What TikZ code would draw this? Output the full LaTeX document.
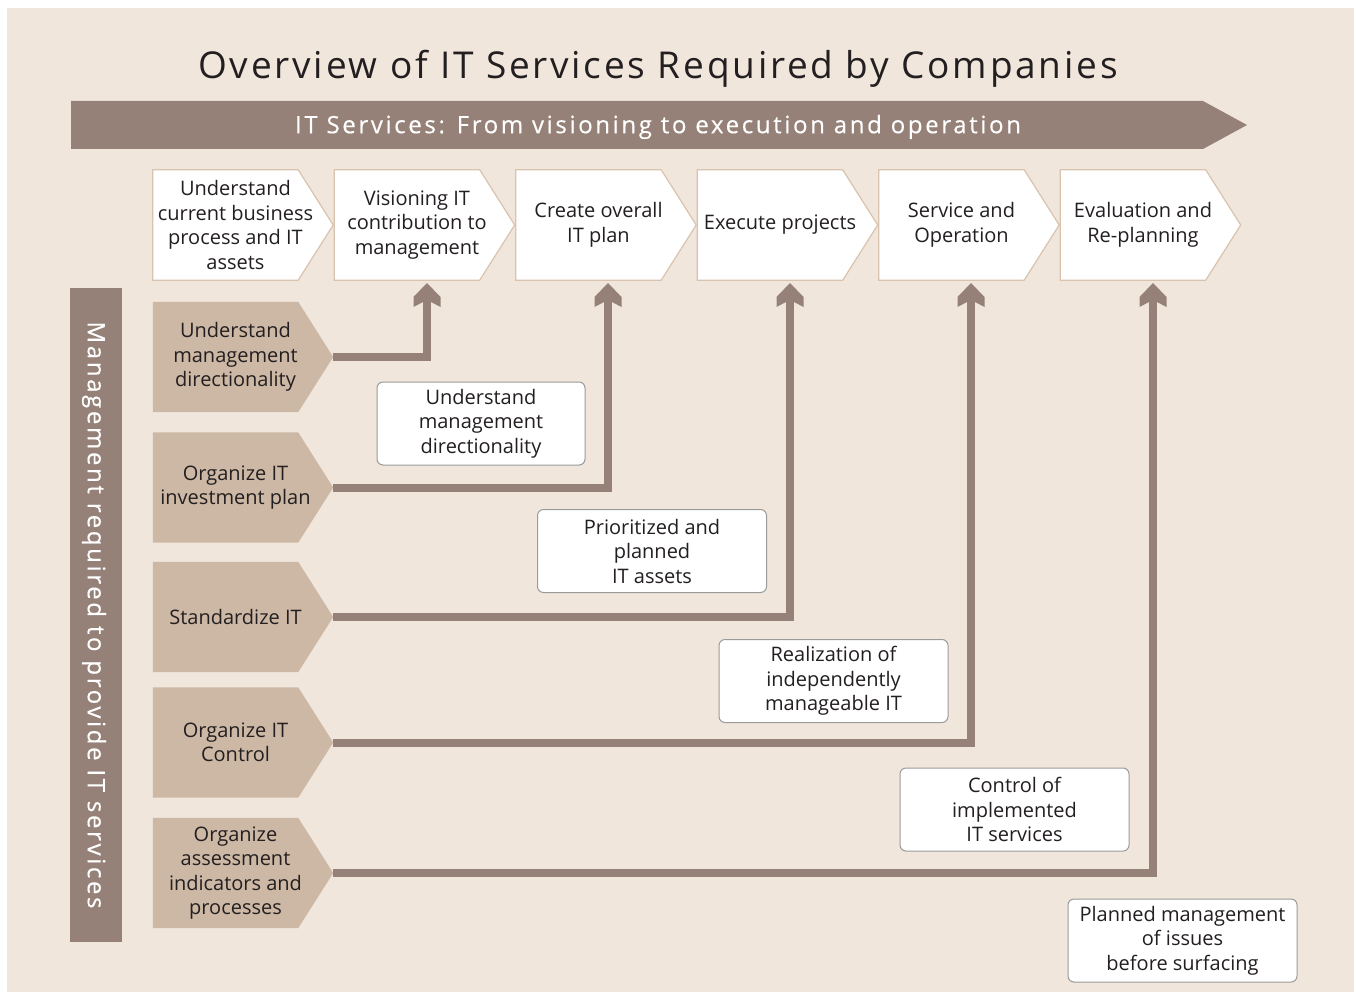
\documentclass[tikz,border=0pt]{standalone}
\usepackage{fontspec}
\setmainfont{Open Sans}
\usetikzlibrary{calc,arrows.meta}
\definecolor{bg}{HTML}{F0E6DC}
\definecolor{brn}{HTML}{958177}
\definecolor{tanfill}{HTML}{CDB8A5}
\definecolor{tanline}{HTML}{D8C3AE}
\definecolor{ink}{HTML}{231F20}
\definecolor{lblline}{HTML}{9A9A9A}
\pgfdeclarearrow{
  name=Chev,
  setup code={
    \pgfarrowssettipend{0pt}
    \pgfarrowssetbackend{-24pt}
    \pgfarrowssetlineend{-17pt}
  },
  drawing code={
    \pgfpathmoveto{\pgfpointorigin}
    \pgfpathlineto{\pgfpoint{-14pt}{13.5pt}}
    \pgfpathlineto{\pgfpoint{-24pt}{13.5pt}}
    \pgfpathlineto{\pgfpoint{-19pt}{4pt}}
    \pgfpathlineto{\pgfpoint{-19pt}{-4pt}}
    \pgfpathlineto{\pgfpoint{-24pt}{-13.5pt}}
    \pgfpathlineto{\pgfpoint{-14pt}{-13.5pt}}
    \pgfpathclose
    \pgfusepathqfill
  }
}
\tikzset{
  boxframe/.style={inner sep=0pt, minimum width=145pt, minimum height=110pt},
  toptext/.style={text=ink, align=center, font=\fontsize{20}{24.5}\selectfont, inner sep=0pt},
  topshape/.style={fill=white, draw=tanline, line width=1.2pt},
  leftshape/.style={fill=tanfill},
  lbl/.style={fill=white, draw=lblline, line width=1pt, rounded corners=6pt, text=ink, align=center,
    font=\fontsize{20}{24.5}\selectfont, inner sep=0pt, minimum width=229pt, minimum height=83pt},
  conn/.style={draw=brn, line width=8pt, -Chev},
  bartext/.style={text=white, font=\fontsize{24}{28}\selectfont\addfontfeature{LetterSpace=11,FakeBold=0.4}},
}
\begin{document}
\begin{tikzpicture}[x=1pt,y=-1pt]
\useasboundingbox (0,0) rectangle (1356,992);
\fill[white] (0,0) rectangle (1356,992);
\fill[bg] (7,8) rectangle (1354,992);
% title
\node[text=ink, font=\fontsize{37}{40}\selectfont\addfontfeature{LetterSpace=7.5}] (title) at (658,69) {Overview of IT Services Required by Companies};
% banner
\fill[brn] (71,101) -- (1203,101) -- (1247,125) -- (1203,149) -- (71,149) -- cycle;
\node[bartext] (banner) at (658,127) {IT Services: From visioning to execution and operation};
% vertical bar
\fill[brn] (70,288) rectangle (122,942);
\node[bartext, rotate=-90] (side) at (94,615) {Management required to provide IT services};
% top boxes
\foreach \n/\s/\t in {t1/153/{Understand\\current business\\process and IT\\assets},
                      t2/334.5/{Visioning IT\\contribution to\\management},
                      t3/516/{Create overall\\IT plan},
                      t4/697.5/{Execute projects},
                      t5/879/{Service and\\Operation},
                      t6/1060.5/{Evaluation and\\Re-planning}}{
  \node[boxframe] (\n) at (\s+72.5,225) {};
  \path[topshape] (\n.north west) -- (\n.north east) -- ($(\n.east)+(35,0)$) -- (\n.south east) -- (\n.south west) -- cycle;
  \node[toptext] (\n-l) at (\s+82.5,225) {\t};
}
% left boxes
\foreach \n/\y/\t in {l1/357/{Understand\\management\\directionality},
                      l2/487.5/{Organize IT\\investment plan},
                      l3/617/{Standardize IT},
                      l4/742.5/{Organize IT\\Control},
                      l5/873/{Organize\\assessment\\indicators and\\processes}}{
  \node[boxframe] (\n) at (225.5,\y) {};
  \path[leftshape] (\n.north west) -- (\n.north east) -- ($(\n.east)+(35,0)$) -- (\n.south east) -- (\n.south west) -- cycle;
  \coordinate (\n-tip) at ($(\n.east)+(35,0)$);
  \node[toptext] (\n-l) at (235.5,\y) {\t};
}
% arrow end points
\coordinate (a2) at (427,283);
\coordinate (a3) at (608,283);
\coordinate (a4) at (790,283);
\coordinate (a5) at (971,283);
\coordinate (a6) at (1153,283);
\draw[conn] (l1-tip) -| (a2);
\draw[conn] (l2-tip) -| (a3);
\draw[conn] (l3-tip) -| (a4);
\draw[conn] (l4-tip) -| (a5);
\draw[conn] (l5-tip) -| (a6);
% labels
\node[lbl, minimum width=208pt] (m1) at (481,423.5) {Understand\\management\\directionality};
\node[lbl] (m2) at (652,551) {Prioritized and\\planned\\IT assets};
\node[lbl] (m3) at (833.5,681) {Realization of\\independently\\manageable IT};
\node[lbl] (m4) at (1014.5,809.5) {Control of\\implemented\\IT services};
\node[lbl] (m5) at (1182.5,940.5) {Planned management\\of issues\\before surfacing};
\end{tikzpicture}
\end{document}
